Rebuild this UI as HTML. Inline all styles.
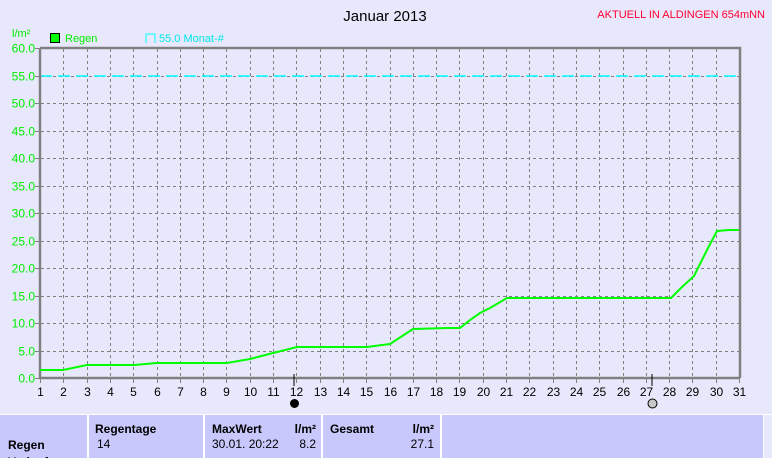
<!DOCTYPE html>
<html><head><meta charset="utf-8"><style>
html,body{margin:0;padding:0;background:#e8e8fc;width:772px;height:458px;overflow:hidden}
svg{display:block;font-family:"Liberation Sans",sans-serif}
</style></head><body>
<svg width="772" height="458" viewBox="0 0 772 458">
<rect width="772" height="458" fill="#e8e8fc"/>
<text x="385" y="21" font-size="15" text-anchor="middle" fill="#000">Januar 2013</text>
<text x="765" y="18" font-size="11" text-anchor="end" fill="#ff0030">AKTUELL IN ALDINGEN 654mNN</text>
<text x="12" y="37" font-size="11" fill="#00ee00">l/m²</text>
<rect x="50.5" y="33.5" width="9" height="9" fill="#00ff00" stroke="#000"/>
<text x="65" y="42" font-size="11" fill="#00ee00">Regen</text>
<path d="M146 43V34H155V43" fill="none" stroke="#00ffff"/>
<text x="159" y="42" font-size="11" fill="#00e8e8">55.0 Monat-#</text>
<g id="grid" stroke="#808080" stroke-dasharray="3,3" stroke-width="1"></g>
<line x1="40" y1="76" x2="739" y2="76" stroke="#00ffff" stroke-width="1.5" stroke-dasharray="12,6"/>
<path d="M40 48H740V378" fill="none" stroke="#808080" stroke-width="2.5"/>
<path d="M40 48V378H740" fill="none" stroke="#808080" stroke-width="2.5"/>
<g id="labels"></g>
<polyline fill="none" stroke="#00ff00" stroke-width="2" points="40,370 63,370 87,365 134,365 157,363 227,363 250,359 273,353 297,347 367,347 390,344 413,329 448,328 460,328 470,320 480,313 490,308 507,298 671,298 682,287 694,276 708,248 717,231 729,230 739,230"/>
<line x1="294" y1="374" x2="294" y2="386" stroke="#000"/>
<line x1="652" y1="374" x2="652" y2="386" stroke="#000"/>
<circle cx="294.5" cy="403.5" r="4.5" fill="#000"/>
<circle cx="652.5" cy="403.5" r="4.5" fill="#c8c8c8" stroke="#000"/>
<rect x="0" y="414" width="772" height="44" fill="#ffffff"/>
<rect x="0" y="415" width="87" height="43" fill="#c8c8fc"/>
<rect x="89" y="415" width="114" height="43" fill="#c8c8fc"/>
<rect x="205" y="415" width="116" height="43" fill="#c8c8fc"/>
<rect x="323" y="415" width="117" height="43" fill="#c8c8fc"/>
<rect x="442" y="415" width="321" height="43" fill="#c8c8fc"/>
<rect x="764" y="415" width="8" height="43" fill="#e8e8fc"/>
<g font-size="12" font-weight="bold" fill="#000">
<text x="95" y="433">Regentage</text>
<text x="212" y="433">MaxWert</text>
<text x="316" y="433" text-anchor="end">l/m²</text>
<text x="330" y="433">Gesamt</text>
<text x="434" y="433" text-anchor="end">l/m²</text>
<text x="8" y="449">Regen</text>
<text x="8" y="466">Verlauf</text>
</g>
<g font-size="12" fill="#000">
<text x="97" y="448">14</text>
<text x="212" y="448">30.01.  20:22</text>
<text x="316" y="448" text-anchor="end">8.2</text>
<text x="434" y="448" text-anchor="end">27.1</text>
</g>
</svg>
<script>
var ns="http://www.w3.org/2000/svg",g=document.getElementById("grid"),L=document.getElementById("labels");
function el(p,t,a,txt){var e=document.createElementNS(ns,t);for(var k in a)e.setAttribute(k,a[k]);if(txt!=null)e.textContent=txt;p.appendChild(e);return e;}
for(var d=1;d<=31;d++){var x=40+(d-1)*699/30;x=Math.round(x)+0.5;
 if(d>1&&d<31)el(g,"line",{x1:x,y1:49,x2:x,y2:377});
 el(L,"line",{x1:x,y1:378,x2:x,y2:383,stroke:"#808080"});
 el(L,"text",{x:x,y:396,"font-size":12,"text-anchor":"middle",fill:"#000"},String(d));}
for(var v=0;v<=60;v+=5){var y=378-v*5.5;y=Math.round(y)+0.5;
 if(v>0&&v<60)el(g,"line",{x1:41,y1:y,x2:739,y2:y});
 el(L,"line",{x1:35,y1:y,x2:40,y2:y,stroke:"#808080"});
 el(L,"text",{x:35,y:y+4,"font-size":12,"text-anchor":"end",fill:"#00ee00"},v.toFixed(1));}
</script>
</body></html>
